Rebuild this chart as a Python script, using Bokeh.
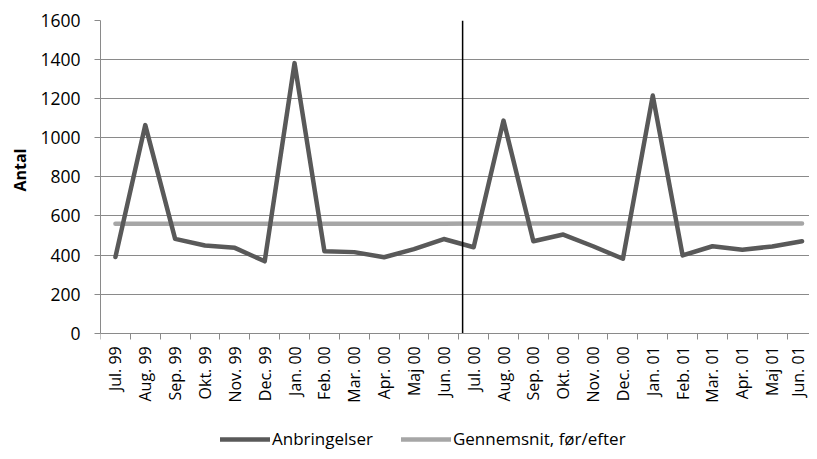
import math
from bokeh.plotting import figure
from bokeh.models import (ColumnDataSource, FixedTicker, Range1d, Legend, LegendItem, Title)
from bokeh.embed import file_html
from bokeh.resources import INLINE

months = ["Jul. 99", "Aug. 99", "Sep. 99", "Okt. 99", "Nov. 99", "Dec. 99",
          "Jan. 00", "Feb. 00", "Mar. 00", "Apr. 00", "Maj 00", "Jun. 00",
          "Jul. 00", "Aug. 00", "Sep. 00", "Okt. 00", "Nov. 00", "Dec. 00",
          "Jan. 01", "Feb. 01", "Mar. 01", "Apr. 01", "Maj 01", "Jun. 01"]
anbringelser = [390, 1065, 483, 449, 437, 368, 1382, 420, 415, 389, 430, 482,
                440, 1088, 471, 505, 445, 381, 1216, 398, 445, 427, 444, 471]
gennemsnit_foer = 560
gennemsnit_efter = 561
y_ticks = [0, 200, 400, 600, 800, 1000, 1200, 1400, 1600]
reform_position = 12.13  # vertical marker between Jun. 00 and Jul. 00

n = len(months)
xs = [i + 0.5 for i in range(n)]
avg = [gennemsnit_foer] * 12 + [gennemsnit_efter] * (n - 12)
src = ColumnDataSource(dict(x=xs, y=anbringelser, avg=avg))

FONT = "Open Sans"
GRID = "#8a8a8a"

# frame runs down to the bottom of the canvas so that the legend can sit inside it;
# the x axis is pinned at y = 0
y_bottom = -605
p = figure(width=809, height=451, output_backend="svg", toolbar_location=None,
           x_range=Range1d(0, 23.75), y_range=Range1d(y_bottom, y_ticks[-1]),
           min_border_left=97, min_border_top=20, min_border_right=0,
           min_border_bottom=0)
p.outline_line_color = None
p.background_fill_color = "white"
p.border_fill_color = "white"

l2 = p.line("x", "avg", source=src, line_color="#a6a6a6", line_width=4.5,
            line_cap="round")
l1 = p.line("x", "y", source=src, line_color="#595959", line_width=4.5,
            line_cap="round", line_join="round")

p.segment(x0=reform_position, y0=y_ticks[0], x1=reform_position, y1=y_ticks[-1],
          line_color="black", line_width=1.5)

# x axis
xa = p.xaxis[0]
xa.fixed_location = 0
xa.ticker = FixedTicker(ticks=xs, minor_ticks=list(range(n + 1)))
xa.major_label_overrides = {x: m for x, m in zip(xs, months)}
xa.major_label_orientation = math.pi / 2
xa.major_tick_out = 0
xa.major_tick_in = 0
xa.minor_tick_out = 6
xa.minor_tick_in = 0
xa.minor_tick_line_color = GRID
xa.axis_line_color = GRID
xa.major_label_text_font = FONT
xa.major_label_text_font_size = "16px"
xa.major_label_text_color = "black"
xa.major_label_standoff = 7

# y axis
ya = p.yaxis[0]
ya.bounds = (y_ticks[0], y_ticks[-1])
ya.ticker = FixedTicker(ticks=y_ticks)
ya.minor_tick_line_color = None
ya.major_tick_out = 6
ya.major_tick_in = 0
ya.major_tick_line_color = GRID
ya.axis_line_color = GRID
ya.major_label_text_font = FONT
ya.major_label_text_font_size = "17.5px"
ya.major_label_text_color = "black"
ya.major_label_standoff = 14

ytitle = Title(text="Antal", align="right", offset=128, standoff=13,
               text_font=FONT, text_font_style="bold", text_font_size="16px",
               text_color="black")
p.add_layout(ytitle, "left")

p.xgrid.grid_line_color = None
p.ygrid.ticker = FixedTicker(ticks=y_ticks)
p.ygrid.grid_line_color = GRID
p.ygrid.grid_line_width = 1

legend = Legend(items=[LegendItem(label="Anbringelser", renderers=[l1]),
                       LegendItem(label="Gennemsnit, før/efter", renderers=[l2])],
                location=(120, 1), orientation="horizontal",
                glyph_width=50, glyph_height=16, label_height=16,
                label_standoff=2, spacing=28, padding=0, margin=0,
                label_text_font=FONT, label_text_font_size="17px",
                label_text_color="black",
                background_fill_alpha=0, border_line_color=None)
p.add_layout(legend, "center")

open("out.html", "w").write(file_html(p, INLINE))
